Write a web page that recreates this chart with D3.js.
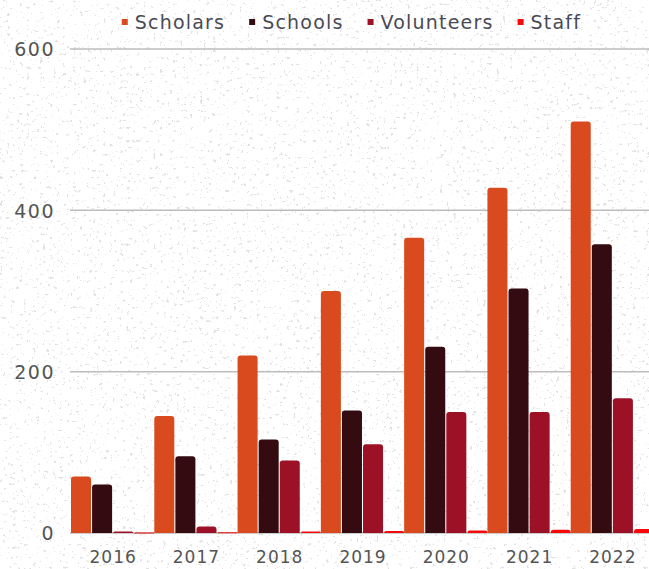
<!DOCTYPE html>
<html>
<head>
<meta charset="utf-8">
<script src="https://cdn.jsdelivr.net/npm/d3@7"></script>
<style>
  html, body { margin: 0; padding: 0; background: #ffffff; overflow: hidden; }
  svg { display: block; }
  text { font-family: "DejaVu Sans", "Noto Sans", sans-serif; }
</style>
</head>
<body>
<svg id="chart" width="649" height="569"></svg>
<script>
// ---- data ----
const years = ["2016", "2017", "2018", "2019", "2020", "2021", "2022"];
const seriesNames = ["Scholars", "Schools", "Volunteers", "Staff"];
const scholars   = [70, 145, 220, 300, 366, 428, 510];
const schools    = [60, 95, 116, 152, 231, 303, 358];
const volunteers = [2, 8, 90, 110, 150, 150, 167];
const staff      = [0.5, 1, 2, 2.5, 3, 4, 5];
const yTicks = [0, 200, 400, 600];
const colors = ["#d94b1e", "#330b10", "#9c1125", "#f40a0a"];

const seriesValues = [scholars, schools, volunteers, staff];

const W = 649, H = 569;
const margin = { left: 71, right: -5, top: 49, bottom: 36 };

const svg = d3.select("#chart");

// background speckle texture
const defs = svg.append("defs");
const f = defs.append("filter").attr("id", "speck")
  .attr("x", 0).attr("y", 0).attr("width", "100%").attr("height", "100%");
f.append("feTurbulence").attr("type", "fractalNoise")
  .attr("baseFrequency", "0.3").attr("numOctaves", 4).attr("seed", 11).attr("result", "n");
f.append("feColorMatrix").attr("type", "matrix")
  .attr("values", "0 0 0 0 0.6  0 0 0 0 0.6  0 0 0 0 0.62  -22 0 0 0 6.9");
svg.append("rect").attr("width", W).attr("height", H).attr("fill", "#ffffff");
svg.append("rect").attr("width", W).attr("height", H).attr("filter", "url(#speck)").attr("opacity", 0.55);

const x0 = d3.scaleBand()
  .domain(years)
  .range([margin.left, W - margin.right])
  .paddingInner(0).paddingOuter(0);

const x1 = d3.scaleBand()
  .domain(seriesNames)
  .range([0, x0.bandwidth()])
  .paddingInner(0.05).paddingOuter(0);

const y = d3.scaleLinear()
  .domain([0, 600])
  .range([H - margin.bottom, margin.top]);

// gridlines
const grid = svg.append("g");
grid.selectAll("line").data(yTicks).join("line")
  .attr("x1", 70).attr("x2", W)
  .attr("y1", d => y(d)).attr("y2", d => y(d))
  .attr("stroke", "#bdbdbd").attr("stroke-width", 1.5);

// y axis labels
const yAxis = d3.axisLeft(y).tickValues(yTicks).tickSize(0).tickPadding(0);
const gy = svg.append("g").attr("transform", "translate(55,0)").call(yAxis);
gy.select(".domain").remove();
gy.selectAll("text")
  .attr("fill", "#555555")
  .style("font-size", "19px")
  .style("letter-spacing", "1.5px")
  .style("font-family", "'DejaVu Sans', sans-serif")
  .attr("dy", "0.36em");

// x axis labels
const xAxis = d3.axisBottom(x0).tickSize(0).tickPadding(0);
const gx = svg.append("g").attr("transform", `translate(0,${H - margin.bottom})`).call(xAxis);
gx.select(".domain").remove();
gx.selectAll("text")
  .attr("fill", "#555555")
  .style("font-size", "17px")
  .style("letter-spacing", "1px")
  .style("font-family", "'DejaVu Sans', sans-serif")
  .attr("dy", "0").attr("y", 30).attr("dx", "0.5");

// bars with rounded top corners
function topRounded(x, yTop, w, h, r) {
  r = Math.min(r, h, w / 2);
  if (h <= 0) return "";
  return `M${x},${yTop + h}V${yTop + r}Q${x},${yTop} ${x + r},${yTop}H${x + w - r}Q${x + w},${yTop} ${x + w},${yTop + r}V${yTop + h}Z`;
}

const groups = svg.append("g").selectAll("g").data(years).join("g")
  .attr("transform", d => `translate(${x0(d)},0)`);

groups.selectAll("path")
  .data((yr, i) => seriesNames.map((s, k) => ({ s, k, v: seriesValues[k][i] })))
  .join("path")
  .attr("d", d => {
    const yt = y(d.v), h = y(0) - y(d.v);
    return topRounded(x1(d.s), yt, x1.bandwidth(), Math.max(h, 1), 3);
  })
  .attr("fill", d => colors[d.k]);

// legend
const legend = svg.append("g").attr("transform", "translate(0,22)");
const items = legend.selectAll("g").data(seriesNames).join("g");
items.append("rect").attr("width", 6).attr("height", 6).attr("y", -3)
  .attr("fill", (d, i) => colors[i]);
items.append("text").text(d => d).attr("x", 13).attr("dy", "0.36em")
  .attr("fill", "#4a4a55").style("font-size", "19px").style("letter-spacing", "1.2px");
let widths = [];
items.each(function () { widths.push(this.getBBox().width); });
const gap = 24;
const total = d3.sum(widths) + gap * (widths.length - 1);
let cx = 351.5 - total / 2;
items.attr("transform", (d, i) => {
  const t = `translate(${cx},0)`;
  cx += widths[i] + gap;
  return t;
});
</script>
</body>
</html>
